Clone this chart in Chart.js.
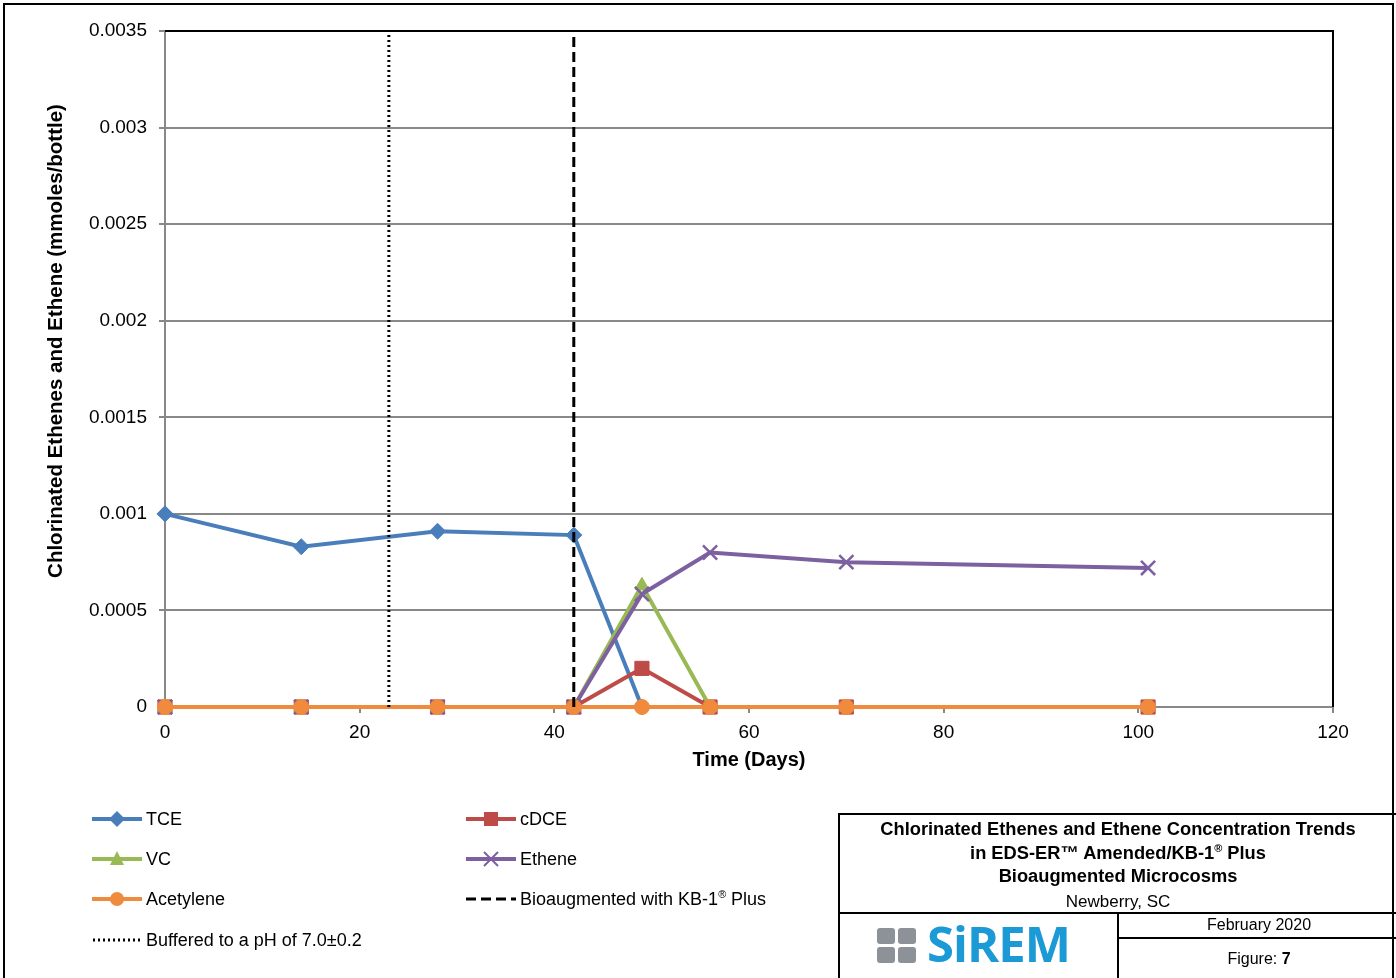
<!DOCTYPE html>
<html>
<head>
<title>Chlorinated Ethenes and Ethene Concentration Trends</title>
<script src="https://cdn.jsdelivr.net/npm/chart.js"></script>
<style>
  body { margin: 0; background: #fff; font-family: "Liberation Sans", Arial, sans-serif; }
  #wrap { position: relative; width: 1396px; height: 978px; overflow: hidden; }
  #chart { position: absolute; left: 0; top: 0; }
  #frame { position: absolute; left: 3px; top: 3px; width: 1387px; height: 990px; border: 2px solid #000; }
  .leg { position: absolute; font-size: 18px; color: #000; display: flex; align-items: center; white-space: nowrap; }
  .leg svg { margin-right: 4px; }
  #box { position: absolute; left: 838px; top: 813px; width: 560px; height: 180px; border: 2px solid #000; }
  #box .t { position: absolute; left: 0; width: 556px; text-align: center; font-size: 18.3px; font-weight: bold; }
  #box .n { position: absolute; left: 0; width: 556px; top: 77px; text-align: center; font-size: 17px; }
  #hline1 { position: absolute; left: 0; top: 97px; width: 560px; border-top: 2px solid #000; }
  #vline { position: absolute; left: 277px; top: 97px; height: 100px; border-left: 2px solid #000; }
  #hline2 { position: absolute; left: 277px; top: 122px; width: 300px; border-top: 2px solid #000; }
  #feb { position: absolute; left: 279px; width: 280px; top: 101px; text-align: center; font-size: 16px; }
  #fig { position: absolute; left: 279px; width: 280px; top: 135px; text-align: center; font-size: 16px; }
  .sq { position: absolute; width: 18px; height: 16px; background: #8c9297; border-radius: 3px; }
  #logo { position: absolute; left: 87px; top: 104px; font-size: 49px; font-weight: bold; color: #1b9ad6; letter-spacing: -1px; font-family: "Open Sans", "Liberation Sans", sans-serif; line-height: 1; }
  sup { font-size: 0.6em; line-height: 0; vertical-align: super; }
</style>
</head>
<body>
<div id="wrap">
  <canvas id="chart" width="1396" height="978"></canvas>
  <div id="frame"></div>

  <div class="leg" style="left:92px; top:808px;"><svg width="50" height="22"><line x1="0" y1="11" x2="50" y2="11" stroke="#4a7ebb" stroke-width="4"/><polygon points="25,3 33,11 25,19 17,11" fill="#4a7ebb"/></svg><span>TCE</span></div>
  <div class="leg" style="left:466px; top:808px;"><svg width="50" height="22"><line x1="0" y1="11" x2="50" y2="11" stroke="#be4b48" stroke-width="4"/><rect x="18" y="4" width="14" height="14" fill="#be4b48"/></svg><span>cDCE</span></div>
  <div class="leg" style="left:92px; top:848px;"><svg width="50" height="22"><line x1="0" y1="11" x2="50" y2="11" stroke="#98b954" stroke-width="4"/><polygon points="25,3 32,17 18,17" fill="#98b954"/></svg><span>VC</span></div>
  <div class="leg" style="left:466px; top:848px;"><svg width="50" height="22"><line x1="0" y1="11" x2="50" y2="11" stroke="#7d60a0" stroke-width="4"/><path d="M18,4 L32,18 M32,4 L18,18" stroke="#7d60a0" stroke-width="2"/></svg><span>Ethene</span></div>
  <div class="leg" style="left:92px; top:888px;"><svg width="50" height="22"><line x1="0" y1="11" x2="50" y2="11" stroke="#f08a3c" stroke-width="4"/><circle cx="25" cy="11" r="7" fill="#f08a3c"/></svg><span>Acetylene</span></div>
  <div class="leg" style="left:466px; top:888px;"><svg width="50" height="22"><line x1="0" y1="11" x2="50" y2="11" stroke="#000" stroke-width="3" stroke-dasharray="10,5"/></svg><span>Bioaugmented with KB-1<sup>®</sup> Plus</span></div>
  <div class="leg" style="left:92px; top:929px;"><svg width="50" height="22"><line x1="1" y1="11" x2="50" y2="11" stroke="#000" stroke-width="3" stroke-dasharray="2,3"/></svg><span>Buffered to a pH of 7.0±0.2</span></div>

  <div id="box">
    <div class="t" style="top:3px;">Chlorinated Ethenes and Ethene Concentration Trends</div>
    <div class="t" style="top:27px;">in EDS-ER™ Amended/KB-1<sup>®</sup> Plus</div>
    <div class="t" style="top:50px;">Bioaugmented Microcosms</div>
    <div class="n">Newberry, SC</div>
    <div id="hline1"></div>
    <div id="vline"></div>
    <div id="hline2"></div>
    <div id="feb">February 2020</div>
    <div id="fig">Figure: <b>7</b></div>
    <div class="sq" style="left:37px; top:113px;"></div>
    <div class="sq" style="left:58px; top:113px;"></div>
    <div class="sq" style="left:37px; top:132px;"></div>
    <div class="sq" style="left:58px; top:132px;"></div>
    <div id="logo">SiREM</div>
  </div>
</div>

<script>
// sampling days and concentrations (mmoles/bottle)
const days = [0, 14, 28, 42, 49, 56, 70, 101];
const tce = [0.001, 0.00083, 0.00091, 0.00089, 0, 0, 0, 0];
const cdce = [0, 0, 0, 0, 0.0002, 0, 0, 0];
const vc = [0, 0, 0, 0, 0.00063, 0, 0, 0];
const ethene = [0, 0, 0, 0, 0.000585, 0.0008, 0.00075, 0.00072];
const acetylene = [0, 0, 0, 0, 0, 0, 0, 0];

const bufferDay = 23;
const bioaugDay = 42;
const yMax = 0.0035;

const xTicks = [0, 20, 40, 60, 80, 100, 120];
const yTicks = [0, 0.0005, 0.001, 0.0015, 0.002, 0.0025, 0.003, 0.0035];

const pts = arr => days.map((d, i) => ({ x: d, y: arr[i] }));

function series(label, values, color, style, radius, order) {
    return {
        label: label,
        data: pts(values),
        borderColor: color,
        backgroundColor: color,
        borderWidth: 4,
        pointStyle: style,
        pointRadius: radius,
        pointBorderWidth: style === 'crossRot' ? 2.5 : 1,
        pointBackgroundColor: color,
        pointBorderColor: color,
        tension: 0,
        clip: false,
        order: order
    };
}

const frameLines = {
    id: 'frameLines',
    afterDraw(chart) {
        const { ctx, chartArea: a } = chart;
        ctx.save();
        ctx.strokeStyle = '#000';
        ctx.lineWidth = 2;
        ctx.beginPath();
        ctx.moveTo(a.left, a.top);
        ctx.lineTo(a.right, a.top);
        ctx.lineTo(a.right, a.bottom);
        ctx.stroke();
        // y axis title
        ctx.fillStyle = '#000';
        ctx.font = 'bold 20.5px "Liberation Sans", Arial, sans-serif';
        ctx.textAlign = 'center';
        ctx.textBaseline = 'middle';
        ctx.translate(56, 341);
        ctx.rotate(-Math.PI / 2);
        ctx.fillText('Chlorinated Ethenes and Ethene (mmoles/bottle)', 0, 0);
        ctx.restore();
    }
};

new Chart(document.getElementById('chart'), {
    type: 'line',
    data: {
        datasets: [
            series('TCE', tce, '#4a7ebb', 'rectRot', 8, 6),
            series('cDCE', cdce, '#be4b48', 'rect', 10, 5),
            series('VC', vc, '#98b954', 'triangle', 8, 4),
            series('Ethene', ethene, '#7d60a0', 'crossRot', 10, 3),
            series('Acetylene', acetylene, '#f08a3c', 'circle', 7.5, 2),
            {
                label: 'Bioaugmented with KB-1® Plus',
                data: [{ x: bioaugDay, y: 0 }, { x: bioaugDay, y: yMax }],
                borderColor: '#000',
                borderWidth: 3,
                borderDash: [10, 5],
                pointRadius: 0,
                clip: false,
                order: 1
            },
            {
                label: 'Buffered to a pH of 7.0±0.2',
                data: [{ x: bufferDay, y: 0 }, { x: bufferDay, y: yMax }],
                borderColor: '#000',
                borderWidth: 3,
                borderDash: [2, 3],
                pointRadius: 0,
                clip: false,
                order: 0
            }
        ]
    },
    options: {
        responsive: false,
        animation: false,
        layout: { padding: { left: 0, right: 63, top: 31, bottom: 196 } },
        plugins: {
            legend: { display: false },
            tooltip: { enabled: false }
        },
        scales: {
            x: {
                type: 'linear',
                min: 0,
                max: 120,
                afterBuildTicks: s => { s.ticks = xTicks.map(v => ({ value: v })); },
                afterFit: s => { s.height = 75; },
                grid: { drawOnChartArea: false, color: '#888', tickLength: 6, lineWidth: 2 },
                border: { color: '#888', width: 2 },
                ticks: {
                    color: '#000',
                    padding: 8,
                    maxRotation: 0,
                    font: { family: '"Liberation Sans", Arial, sans-serif', size: 19 }
                },
                title: {
                    display: true,
                    text: 'Time (Days)',
                    color: '#000',
                    padding: { top: 0, bottom: 10 },
                    font: { family: '"Liberation Sans", Arial, sans-serif', size: 20, weight: 'bold' }
                }
            },
            y: {
                min: 0,
                max: yMax,
                afterBuildTicks: s => { s.ticks = yTicks.map(v => ({ value: v })); },
                afterFit: s => { s.width = 165; },
                grid: { color: '#888', tickLength: 6, lineWidth: 2 },
                border: { color: '#888', width: 2 },
                ticks: {
                    color: '#000',
                    padding: 12,
                    font: { family: '"Liberation Sans", Arial, sans-serif', size: 19 },
                    callback: v => v === 0 ? '0' : String(+v.toFixed(4))
                }
            }
        }
    },
    plugins: [frameLines]
});
</script>
</body>
</html>
